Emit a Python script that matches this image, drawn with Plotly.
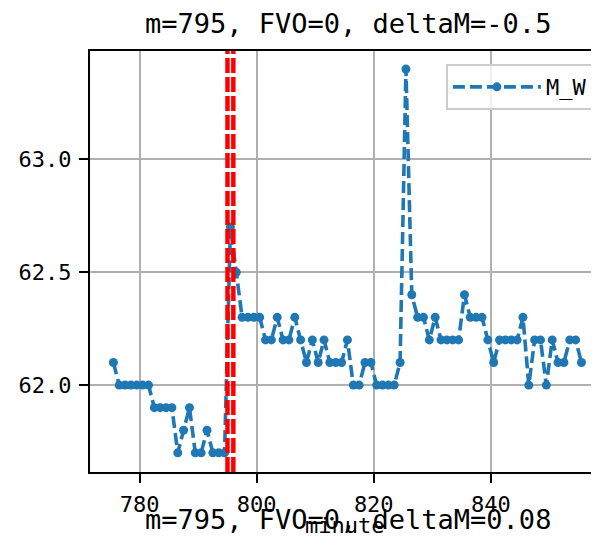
import plotly.graph_objects as go

# ---- data ----
minute_start = 775.5
m_w = [62.1, 62.0, 62.0, 62.0, 62.0, 62.0, 62.0, 61.9, 61.9, 61.9,
       61.9, 61.7, 61.8, 61.9, 61.7, 61.7, 61.8, 61.7, 61.7, 61.7,
       62.7, 62.5, 62.3, 62.3, 62.3, 62.3, 62.2, 62.2, 62.3, 62.2,
       62.2, 62.3, 62.2, 62.1, 62.2, 62.1, 62.2, 62.1, 62.1, 62.1,
       62.2, 62.0, 62.0, 62.1, 62.1, 62.0, 62.0, 62.0, 62.0, 62.1,
       63.4, 62.4, 62.3, 62.3, 62.2, 62.3, 62.2, 62.2, 62.2, 62.2,
       62.4, 62.3, 62.3, 62.3, 62.2, 62.1, 62.2, 62.2, 62.2, 62.2,
       62.3, 62.0, 62.2, 62.2, 62.0, 62.2, 62.1, 62.1, 62.2, 62.2,
       62.1]
minutes = [minute_start + i for i in range(len(m_w))]
event_lines = [795, 796]
x_ticks = [780, 800, 820, 840]
y_ticks = [62.0, 62.5, 63.0]
title_top = "m=795, FVO=0, deltaM=-0.5"
title_bottom = "m=795, FVO=0, deltaM=0.08"
x_label = "minute"
series_name = "M_W"

FONT = "DejaVu Sans Mono"
BLUE = "#1f77b4"

fig = go.Figure()
fig.add_trace(go.Scatter(
    x=minutes, y=m_w, mode="lines+markers", name=series_name,
    line=dict(color=BLUE, width=3.6, dash="12px,5px"),
    marker=dict(color=BLUE, size=9, symbol="circle"),
))

for xv in event_lines:
    fig.add_shape(type="line", xref="x", yref="paper", x0=xv, x1=xv, y0=0, y1=1,
                  line=dict(color="red", width=4.5, dash="15px,4px"), layer="above")

# page body has an 8px margin: figure is sized / offset to fill the 599x553 window
fig.update_layout(
    width=591, height=545,
    margin=dict(l=82, r=0, t=43, b=81),
    paper_bgcolor="white", plot_bgcolor="white",
    font=dict(family=FONT, size=22, color="black"),
    showlegend=True,
    legend=dict(x=0.99, y=0.969, xanchor="right", yanchor="top",
                bgcolor="rgba(255,255,255,0.8)", bordercolor="#cccccc", borderwidth=2,
                itemwidth=88,
                font=dict(family=FONT, size=22, color="black")),
    annotations=[
        dict(text=title_top, xref="paper", yref="paper", x=0.506, y=1.0, yshift=28,
             xanchor="center", yanchor="middle", showarrow=False,
             font=dict(family=FONT, size=27, color="black")),
        dict(text=title_bottom, xref="paper", yref="paper", x=0.506, y=-0.114,
             xanchor="center", yanchor="middle", showarrow=False,
             font=dict(family=FONT, size=27, color="black")),
        dict(text=x_label, xref="paper", yref="paper", x=0.5, y=-0.128,
             xanchor="center", yanchor="middle", showarrow=False,
             font=dict(family=FONT, size=22, color="black")),
    ],
)

fig.update_xaxes(
    range=[771.5, 858.5], tickvals=x_ticks, ticks="outside", ticklen=9, tickwidth=2,
    tickcolor="black", showline=True, linecolor="black", linewidth=2, mirror=True,
    showgrid=True, gridcolor="#b0b0b0", gridwidth=2, zeroline=False,
    tickfont=dict(family=FONT, size=22, color="black"), ticklabelstandoff=3,
)
fig.update_yaxes(
    range=[61.615, 63.48], tickvals=y_ticks, tickformat=".1f", ticks="outside",
    ticklen=9, tickwidth=2, tickcolor="black", showline=True, linecolor="black",
    linewidth=2, mirror=False, showgrid=True, gridcolor="#b0b0b0", gridwidth=2,
    zeroline=False, tickfont=dict(family=FONT, size=22, color="black"),
    ticklabelstandoff=3,
)

fig.write_html("out.html", config={"displayModeBar": False})
